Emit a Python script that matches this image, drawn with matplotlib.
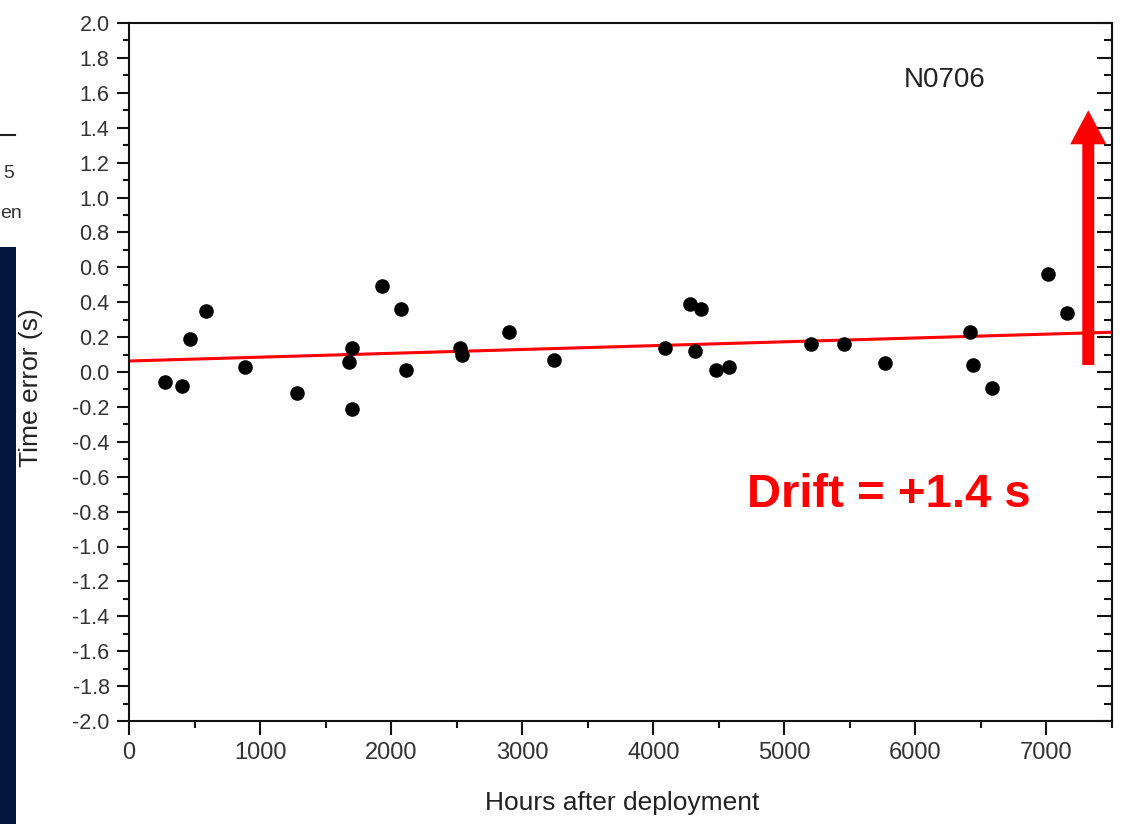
import matplotlib
matplotlib.use("Agg")
import matplotlib.pyplot as plt
import numpy as np
from matplotlib.ticker import MultipleLocator, FixedLocator

plt.rcParams['font.family'] = ['Liberation Sans', 'DejaVu Sans']

# ---- data ----
hours = [274, 404, 465, 586, 883, 1280, 1676, 1698, 1698, 1927, 2072, 2110,
         2529, 2544, 2902, 3245, 4090, 4280, 4364, 4318, 4478, 4577, 5202,
         5453, 5765, 6413, 6436, 6588, 7014, 7159]
time_error = [-0.06, -0.08, 0.19, 0.35, 0.03, -0.12, 0.06, 0.14, -0.21, 0.49,
              0.36, 0.01, 0.14, 0.10, 0.23, 0.07, 0.14, 0.39, 0.36, 0.12, 0.01,
              0.03, 0.16, 0.16, 0.05, 0.23, 0.04, -0.09, 0.56, 0.34]
fit_intercept = 0.063
fit_slope = 2.2e-5
x_range = [0, 7500]
y_range = [-2.0, 2.0]
station = "N0706"
drift_text = "Drift = +1.4 s"
arrow_x = 7319
arrow_from = 0.04
arrow_to = 1.50

fig = plt.figure(figsize=(11.28, 8.24), dpi=100)
fig.patch.set_facecolor('white')

# screenshot artifacts at left edge
fig.patches.append(plt.Rectangle((0, 0), 16 / 1128, 1 - 247 / 824,
                                 transform=fig.transFigure,
                                 facecolor='#03153a', edgecolor='none', zorder=0))
fig.add_artist(plt.Line2D([0, 15 / 1128], [1 - 135 / 824, 1 - 135 / 824],
                          transform=fig.transFigure, color='#222222', lw=1.5))
fig.text(3 / 1128, 1 - 173 / 824, "5", fontsize=14, color='#333333',
         va='center', ha='left')
fig.text(0.5 / 1128, 1 - 214 / 824, "en", fontsize=14, color='#333333',
         va='center', ha='left')

ax = fig.add_axes([129 / 1128, 1 - 721 / 824, (1112 - 129) / 1128, (721 - 23) / 824])

fit_x = np.array(x_range, dtype=float)
ax.plot(fit_x, fit_intercept + fit_slope * fit_x, color='#ff0000', lw=2.2,
        zorder=2, solid_capstyle='butt')
ax.scatter(hours, time_error, s=110, color='black', zorder=3, linewidths=0)

ax.set_xlim(*x_range)
ax.set_ylim(*y_range)

ax.xaxis.set_major_locator(FixedLocator(np.arange(0, 7001, 1000)))
ax.xaxis.set_minor_locator(FixedLocator(np.arange(500, 7501, 1000)))
ax.yaxis.set_major_locator(MultipleLocator(0.2))
ax.yaxis.set_minor_locator(MultipleLocator(0.1))
ax.yaxis.set_major_formatter(matplotlib.ticker.FormatStrFormatter('%.1f'))

for s in ax.spines.values():
    s.set_linewidth(1.5)
    s.set_color('#111111')

ax.tick_params(axis='x', which='major', direction='out', length=10, width=1.5,
               labelsize=17, pad=5, colors='#111111', labelcolor='#333333')
ax.tick_params(axis='x', which='minor', direction='out', length=5, width=1.5,
               colors='#111111')
ax.tick_params(axis='y', which='major', direction='out', length=9, width=1.5,
               labelsize=15.5, pad=5, colors='#111111', labelcolor='#333333',
               right=True)
ax.tick_params(axis='y', which='minor', direction='out', length=4, width=1.5,
               colors='#111111', right=True)
# right side ticks inward
for t in ax.yaxis.get_major_ticks():
    t.tick2line.set_marker(matplotlib.markers.TICKLEFT)
    t.tick2line.set_markersize(11)
for t in ax.yaxis.get_minor_ticks():
    t.tick2line.set_marker(matplotlib.markers.TICKLEFT)
    t.tick2line.set_markersize(6)

ax.text(6222, 1.673, station, fontsize=20, color='#222222', ha='center', va='center')
ax.text(5796, -0.705, drift_text, fontsize=34, fontweight='bold', color='#ff0000',
        ha='center', va='center')

ax.annotate('', xy=(arrow_x, arrow_to), xytext=(arrow_x, arrow_from),
            arrowprops=dict(arrowstyle='simple,head_length=24.5,head_width=26,tail_width=8.6',
                            mutation_scale=1, color='#ff0000', shrinkA=0, shrinkB=0,
                            lw=0), zorder=4)

fig.text(622 / 1128, 1 - 803 / 824, "Hours after deployment", fontsize=19,
         color='#222222', ha='center', va='center')
fig.text(31 / 1128, 1 - 388 / 824, "Time error (s)", fontsize=19, rotation=90,
         color='#222222', ha='center', va='center')

fig.savefig('out.png', dpi=100)
